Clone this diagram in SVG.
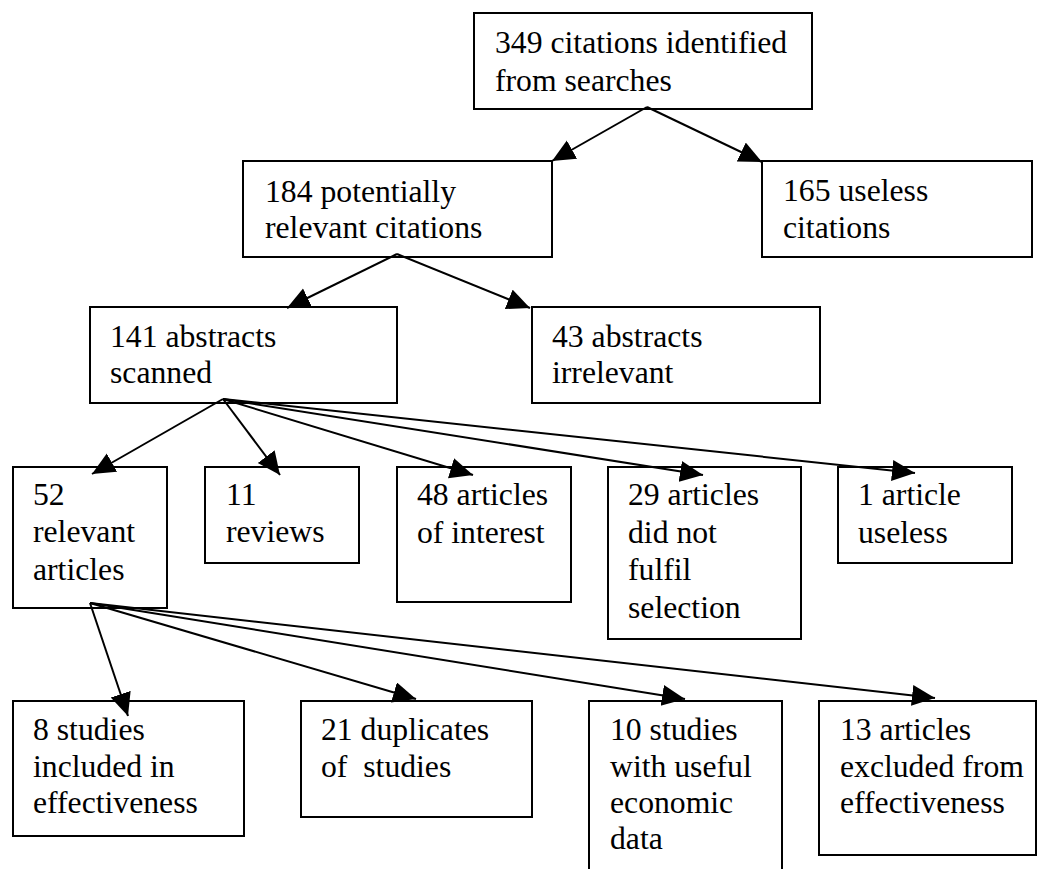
<svg xmlns="http://www.w3.org/2000/svg" width="1037" height="869" viewBox="0 0 1037 869">
<style>
.box{fill:#fff;stroke:#000;stroke-width:2}
text{font-family:'Liberation Serif','Times New Roman','DejaVu Serif',serif;font-size:31.7px;fill:#000}
.c{stroke:#000;stroke-width:2;fill:none;marker-end:url(#ah)}
</style>
<defs>
<marker id="ah" markerUnits="userSpaceOnUse" markerWidth="24" markerHeight="22" refX="23" refY="10.5" orient="auto">
<path d="M0,0 L23,10.5 L0,21 z" fill="#000"/>
</marker>
</defs>
<rect width="1037" height="869" fill="#fff"/>
<g font-family="Liberation Serif, Times New Roman, serif" font-size="31.7">
<g id="n349"><rect class="box" x="474" y="13" width="338" height="96"/><text x="495" y="53">349 citations identified</text><text x="495" y="91">from searches</text></g>
<g id="n184"><rect class="box" x="243" y="161" width="309" height="96"/><text x="265" y="202">184 potentially</text><text x="265" y="238">relevant citations</text></g>
<g id="n165"><rect class="box" x="762" y="161" width="270" height="96"/><text x="783" y="201">165 useless</text><text x="783" y="238">citations</text></g>
<g id="n141"><rect class="box" x="90" y="307" width="307" height="96"/><text x="110" y="347">141 abstracts</text><text x="110" y="383">scanned</text></g>
<g id="n43"><rect class="box" x="532" y="307" width="288" height="96"/><text x="552" y="347">43 abstracts</text><text x="552" y="383">irrelevant</text></g>
<g id="n52"><rect class="box" x="13" y="467" width="154" height="141"/><text x="33" y="505">52</text><text x="33" y="542">relevant</text><text x="33" y="580">articles</text></g>
<g id="n11"><rect class="box" x="205" y="467" width="154" height="96"/><text x="226" y="505">11</text><text x="226" y="542">reviews</text></g>
<g id="n48"><rect class="box" x="397" y="467" width="174" height="135"/><text x="417" y="505">48 articles</text><text x="417" y="543">of interest</text></g>
<g id="n29"><rect class="box" x="608" y="467" width="193" height="172"/><text x="628" y="505">29 articles</text><text x="628" y="543">did not</text><text x="628" y="580">fulfil</text><text x="628" y="618">selection</text></g>
<g id="n1"><rect class="box" x="838" y="467" width="174" height="96"/><text x="858" y="505">1 article</text><text x="858" y="543">useless</text></g>
<g id="n8"><rect class="box" x="13" y="701" width="231" height="135"/><text x="33" y="740">8 studies</text><text x="33" y="777">included in</text><text x="33" y="813">effectiveness</text></g>
<g id="n21"><rect class="box" x="301" y="701" width="231" height="116"/><text x="321" y="740">21 duplicates</text><text x="321" y="777" xml:space="preserve">of  studies</text></g>
<g id="n10"><rect class="box" x="589" y="701" width="193" height="190"/><text x="610" y="740">10 studies</text><text x="610" y="777">with useful</text><text x="610" y="813">economic</text><text x="610" y="849">data</text></g>
<g id="n13"><rect class="box" x="819" y="701" width="217" height="154"/><text x="840" y="740">13 articles</text><text x="840" y="777">excluded from</text><text x="840" y="813">effectiveness</text></g>
</g>
<g id="connectors">
<line class="c" x1="647" y1="107" x2="552" y2="161"/>
<line class="c" x1="647" y1="107" x2="762" y2="162"/>
<line class="c" x1="397" y1="254" x2="287" y2="308"/>
<line class="c" x1="397" y1="254" x2="530" y2="308"/>
<line class="c" x1="223" y1="399" x2="92" y2="474"/>
<line class="c" x1="223" y1="399" x2="280" y2="475"/>
<line class="c" x1="223" y1="399" x2="473" y2="475"/>
<line class="c" x1="223" y1="399" x2="703" y2="475"/>
<line class="c" x1="223" y1="399" x2="915" y2="473"/>
<line class="c" x1="90" y1="603" x2="128" y2="716"/>
<line class="c" x1="90" y1="603" x2="416" y2="699"/>
<line class="c" x1="90" y1="603" x2="685" y2="699"/>
<line class="c" x1="90" y1="603" x2="935" y2="698"/>
</g>
</svg>
